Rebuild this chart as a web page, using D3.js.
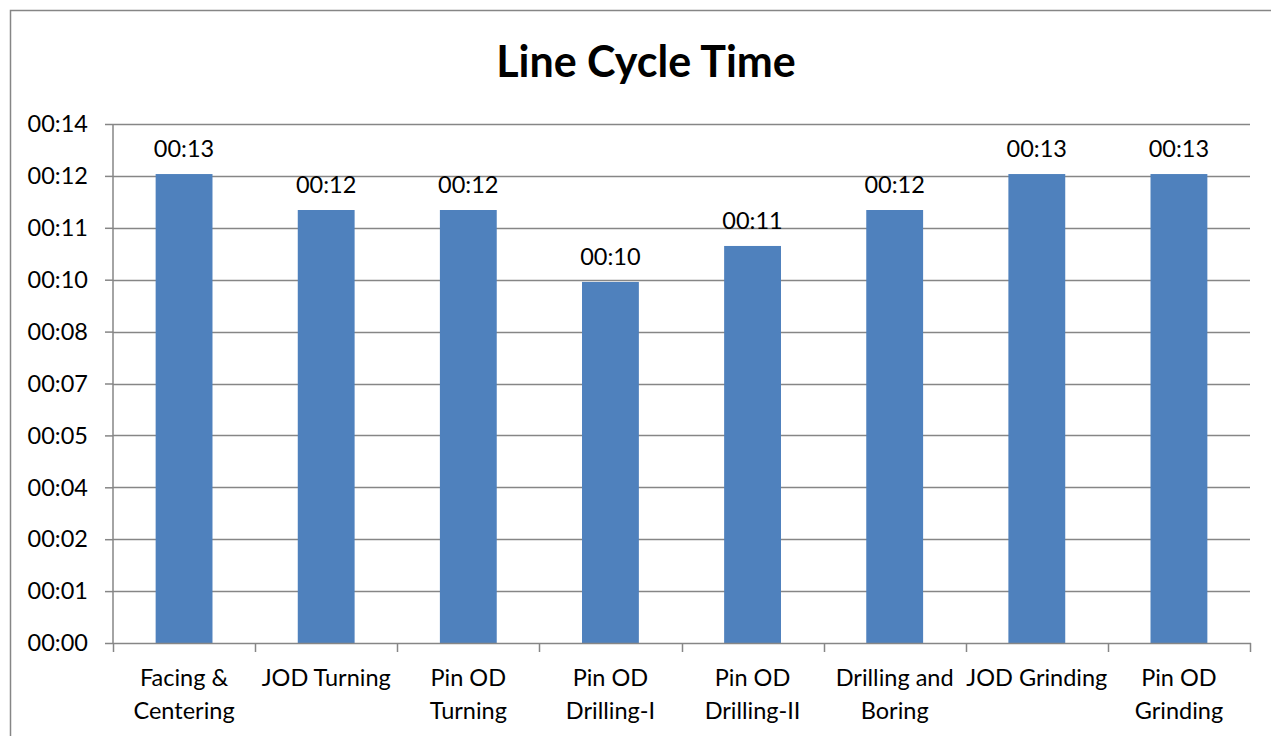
<!DOCTYPE html>
<html>
<head>
<meta charset="utf-8">
<script src="https://cdn.jsdelivr.net/npm/d3@7/dist/d3.min.js"></script>
<style>
  html, body { margin: 0; padding: 0; background: #fff; }
  svg { display: block; font-family: Lato, "Open Sans", sans-serif; }
</style>
</head>
<body>
<svg id="chart" width="1271" height="736"></svg>
<script>
const title = "Line Cycle Time";
const categories = [
  "Facing &\nCentering",
  "JOD Turning",
  "Pin OD\nTurning",
  "Pin OD\nDrilling-I",
  "Pin OD\nDrilling-II",
  "Drilling and\nBoring",
  "JOD Grinding",
  "Pin OD\nGrinding"
];
// cycle time in seconds
const values = [12.65, 11.68, 11.68, 9.74, 10.71, 11.68, 12.65, 12.65];
const valueLabels = ["00:13", "00:12", "00:12", "00:10", "00:11", "00:12", "00:13", "00:13"];
const tickValues = [0, 1.4, 2.8, 4.2, 5.6, 7.0, 8.4, 9.8, 11.2, 12.6, 14];
const tickLabels = ["00:00", "00:01", "00:02", "00:04", "00:05", "00:07", "00:08", "00:10", "00:11", "00:12", "00:14"];

const svg = d3.select("#chart");
const W = 1271, H = 736;
const plot = { left: 113, right: 1250, top: 124, bottom: 643 };

// outer chart border (extends beyond the visible frame)
svg.append("rect")
  .attr("x", 10.5).attr("y", 10.5)
  .attr("width", W + 20).attr("height", H + 20)
  .attr("fill", "#fff").attr("stroke", "#868686").attr("stroke-width", 1.5);

const x = d3.scaleBand().domain(categories).range([plot.left, plot.right]).paddingInner(0.6).paddingOuter(0.3);
const xb = d3.scaleBand().domain(categories).range([plot.left, plot.right]).padding(0);
const y = d3.scaleLinear().domain([0, 14]).range([plot.bottom, plot.top]);

// gridlines
svg.append("g").selectAll("line").data(tickValues.slice(1)).join("line")
  .attr("x1", plot.left).attr("x2", plot.right)
  .attr("y1", d => Math.round(y(d)) + 0.5).attr("y2", d => Math.round(y(d)) + 0.5)
  .attr("stroke", "#868686").attr("stroke-width", 1.5);

// y axis
const yAxis = d3.axisLeft(y).tickValues(tickValues)
  .tickFormat((d, i) => tickLabels[i]).tickSize(8).tickPadding(17);
const gy = svg.append("g").attr("transform", `translate(${plot.left},0)`).call(yAxis);
gy.select(".domain").attr("stroke", "#868686").attr("stroke-width", 1.5)
  .attr("d", `M0,${plot.top}V${plot.bottom}`);
gy.selectAll(".tick line").attr("stroke", "#868686").attr("stroke-width", 1.5);
gy.selectAll(".tick text").attr("font-size", 23.5).attr("fill", "#000")
  .attr("font-family", "Lato, sans-serif").attr("dy", "0.33em");

// bars
svg.append("g").selectAll("rect").data(values).join("rect")
  .attr("x", (d, i) => x(categories[i]))
  .attr("width", x.bandwidth())
  .attr("y", d => y(d))
  .attr("height", d => y(0) - y(d))
  .attr("fill", "#4F81BD");

// value labels
svg.append("g").selectAll("text").data(values).join("text")
  .attr("x", (d, i) => x(categories[i]) + x.bandwidth() / 2)
  .attr("y", d => y(d) - 17)
  .attr("text-anchor", "middle")
  .attr("font-size", 23.5).attr("fill", "#000")
  .text((d, i) => valueLabels[i]);

// x axis
const gx = svg.append("g").attr("transform", `translate(0,${plot.bottom})`);
gx.append("line").attr("x1", plot.left).attr("x2", plot.right + 1)
  .attr("y1", 0.5).attr("y2", 0.5).attr("stroke", "#868686").attr("stroke-width", 1.5);
const boundaries = categories.map(c => xb(c)).concat([plot.right]);
gx.selectAll("line.tk").data(boundaries).join("line").attr("class", "tk")
  .attr("x1", d => Math.round(d) + 0.5).attr("x2", d => Math.round(d) + 0.5)
  .attr("y1", 0).attr("y2", 9).attr("stroke", "#868686").attr("stroke-width", 1.5);

const labels = gx.selectAll("text").data(categories).join("text")
  .attr("text-anchor", "middle")
  .attr("font-size", 23.5).attr("fill", "#000");
labels.each(function(c) {
  const lines = c.split("\n");
  const t = d3.select(this);
  lines.forEach((ln, k) => {
    t.append("tspan")
      .attr("x", xb(c) + xb.bandwidth() / 2)
      .attr("y", 43 + k * 33)
      .text(ln);
  });
});

// title
svg.append("text")
  .attr("x", 646).attr("y", 77)
  .attr("text-anchor", "middle")
  .attr("font-size", 43).attr("font-weight", "bold").attr("fill", "#000")
  .text(title);
</script>
</body>
</html>
